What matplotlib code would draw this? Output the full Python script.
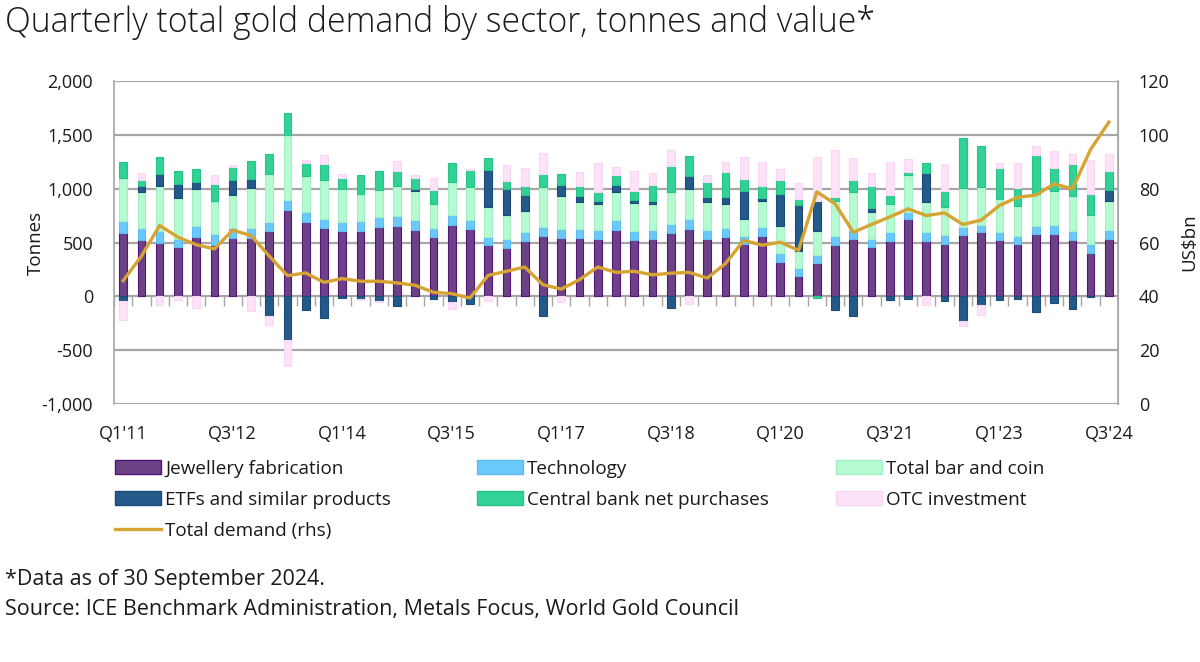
import numpy as np
import matplotlib.pyplot as plt
from matplotlib.patches import Patch
from matplotlib.lines import Line2D

plt.rcParams['font.family'] = ['Open Sans', 'DejaVu Sans']

# quarters Q1'11 .. Q3'24
quarters = [f"Q{q}'{y:02d}" for y in range(11, 25) for q in range(1, 5)][:55]

# tonnes
jewellery = [590, 521, 493, 459, 549, 481, 539, 539, 605, 806, 694, 632, 608, 611, 648, 651,
             614, 549, 667, 623, 474, 450, 512, 561, 543, 539, 533, 614, 524, 530, 589, 629,
             536, 552, 487, 558, 322, 186, 307, 474, 533, 456, 512, 719, 512, 487, 574, 595,
             524, 490, 577, 577, 527, 400, 536]
technology = [107, 115, 112, 74, 102, 102, 96, 96, 90, 93, 87, 87, 87, 93, 90, 93,
              93, 87, 84, 84, 81, 84, 84, 87, 81, 87, 87, 93, 87, 84, 84, 87,
              84, 81, 78, 90, 78, 74, 81, 90, 81, 78, 87, 65, 84, 81, 68, 71,
              78, 74, 78, 84, 84, 84, 84]
bar_coin = [403, 334, 418, 382, 347, 298, 304, 375, 440, 598, 335, 366, 298, 251, 245, 285,
            267, 217, 310, 304, 276, 220, 198, 369, 307, 251, 239, 264, 260, 248, 298, 285,
            260, 226, 149, 239, 251, 158, 217, 319, 357, 248, 257, 347, 282, 260, 366, 347,
            304, 273, 298, 313, 319, 276, 270]
etfs = [-47, 53, 112, 124, 62, 0, 146, 84, -180, -403, -124, -198, -15, -25, -40, -87,
        25, -25, -56, -68, 341, 239, 146, -186, 105, 59, 25, 59, 28, 28, -109, 115,
        43, 65, 264, 22, 304, 434, 279, -124, -180, 37, -31, -25, 270, -47, -233, -84,
        -31, -25, -143, -59, -115, -6, 96]
central_bank = [149, 62, 158, 124, 127, 164, 112, 167, 183, 202, 118, 140, 109, 171, 177, 133,
                96, 133, 174, 158, 115, 78, 84, 115, 96, 87, 87, 93, 81, 146, 236, 183,
                136, 229, 109, 112, 130, 53, -12, 37, 105, 202, 81, 25, 93, 149, 459, 381,
                288, 171, 357, 214, 301, 192, 180]
otc = [-170, 62, -84, -31, -108, 84, 22, -140, -87, -248, 28, 84, 34, -12, -12, 99,
       34, 115, -59, 16, -46, 149, 167, 202, -53, 133, 270, 81, 180, 112, 149, -68,
       68, 93, 208, 229, 102, 143, 412, 443, 211, 121, 310, 124, -77, 254, -47, -93,
       47, 229, 87, 161, 87, 313, 152]

# US$bn, right axis
total_value = [45.8, 54.9, 66.3, 62.0, 59.2, 57.6, 64.6, 62.6, 55.0, 47.7, 48.7, 45.2, 46.6, 45.6, 45.6, 45.0,
               44.1, 41.5, 41.0, 39.4, 47.8, 49.3, 50.9, 44.3, 42.7, 46.2, 50.9, 48.9, 49.3, 48.0, 48.6, 48.9,
               46.8, 52.2, 60.8, 59.0, 60.1, 57.1, 78.8, 74.4, 63.8, 66.7, 69.5, 72.5, 70.0, 71.0, 66.7, 68.3,
               73.7, 76.8, 77.6, 81.8, 79.9, 94.6, 104.7]

series = [
    ('Jewellery fabrication', jewellery, '#6c4287', '#55147a'),
    ('Technology', technology, '#6ac8fb', '#5bbcf0'),
    ('Total bar and coin', bar_coin, '#b4fbd2', '#a4f0c4'),
    ('ETFs and similar products', etfs, '#245a8a', '#1b4a78'),
    ('Central bank net purchases', central_bank, '#32d296', '#27c487'),
    ('OTC investment', otc, '#fde2fa', '#f8d6f4'),
]
line_color = '#d6a432'
grid_color = '#a6a6a6'
text_color = '#1a1a1a'

fig = plt.figure(figsize=(12, 6.62), dpi=100)
ax = fig.add_axes([114 / 1200, 1 - 404 / 662, 1004 / 1200, 323 / 662])

x = np.arange(len(quarters))
pos_base = np.zeros(len(x))
neg_base = np.zeros(len(x))
for name, vals, fc, ec in series:
    v = np.array(vals, dtype=float)
    bottom = np.where(v >= 0, pos_base, neg_base)
    ax.bar(x, v, bottom=bottom, width=0.42, color=fc, edgecolor=ec, linewidth=0.8, zorder=3)
    pos_base += np.where(v >= 0, v, 0)
    neg_base += np.where(v < 0, v, 0)

ax.set_xlim(-0.5, len(x) - 0.5)
ax.set_ylim(-1000, 2000)
ax.set_yticks(range(-1000, 2001, 500))
ax.set_yticklabels([f'{t:,}' for t in range(-1000, 2001, 500)])
ax.yaxis.grid(True, color=grid_color, linewidth=1.6, zorder=1)
ax.set_axisbelow(True)
for s in ['top', 'bottom']:
    ax.spines[s].set_visible(False)
for s in ['left', 'right']:
    ax.spines[s].set_color(grid_color)
    ax.spines[s].set_linewidth(1.2)
ax.tick_params(axis='y', length=0, pad=15, labelsize=13, colors=text_color)

# category ticks on the zero line
ax.plot(np.arange(len(x) + 1) - 0.5, np.zeros(len(x) + 1), ls='none', marker=3,
        ms=7, mew=1.0, color=grid_color, zorder=2)

lab_idx = list(range(0, len(x), 6))
ax.set_xticks(lab_idx)
ax.set_xticklabels([quarters[i] for i in lab_idx])
ax.tick_params(axis='x', length=0, pad=15, labelsize=13, colors=text_color)
ax.set_ylabel('Tonnes', fontsize=13.5, labelpad=-2, color=text_color)

ax2 = ax.twinx()
ax2.plot(x, total_value, color=line_color, linewidth=2.4, zorder=4)
ax2.set_ylim(0, 120)
ax2.set_yticks(range(0, 121, 20))
ax2.tick_params(axis='y', length=0, pad=15, labelsize=13, colors=text_color)
for s in ['top', 'bottom', 'left']:
    ax2.spines[s].set_visible(False)
ax2.spines['right'].set_color(grid_color)
ax2.set_ylabel('US$bn', fontsize=13.5, labelpad=8, color=text_color)

# legend, three columns
handles = [Patch(facecolor=fc, edgecolor=ec, label=name) for name, _, fc, ec in series]
line_h = Line2D([], [], color=line_color, linewidth=2.4, label='Total demand (rhs)')
cols = [[handles[0], handles[3], line_h], [handles[1], handles[4]], [handles[2], handles[5]]]
col_x = [115, 477, 836]
for hs, cx in zip(cols, col_x):
    fig.legend(handles=hs, loc='upper left', bbox_to_anchor=(cx / 1200, 1 - 460 / 662),
               frameon=False, fontsize=13.6, borderpad=0, borderaxespad=0,
               handlelength=2.45, handleheight=0.75, handletextpad=0.2, labelspacing=0.68,
               labelcolor=text_color)

fig.text(5 / 1200, 1 - 23 / 662, 'Quarterly total gold demand by sector, tonnes and value*',
         fontsize=24.3, fontweight='light', va='center', ha='left', color=text_color)
fig.text(5 / 1200, 1 - 579 / 662, '*Data as of 30 September 2024.', fontsize=15.5,
         va='center', ha='left', color=text_color)
fig.text(5 / 1200, 1 - 609 / 662,
         'Source: ICE Benchmark Administration, Metals Focus, World Gold Council',
         fontsize=15.5, va='center', ha='left', color=text_color)

fig.savefig('out.png', dpi=100)
